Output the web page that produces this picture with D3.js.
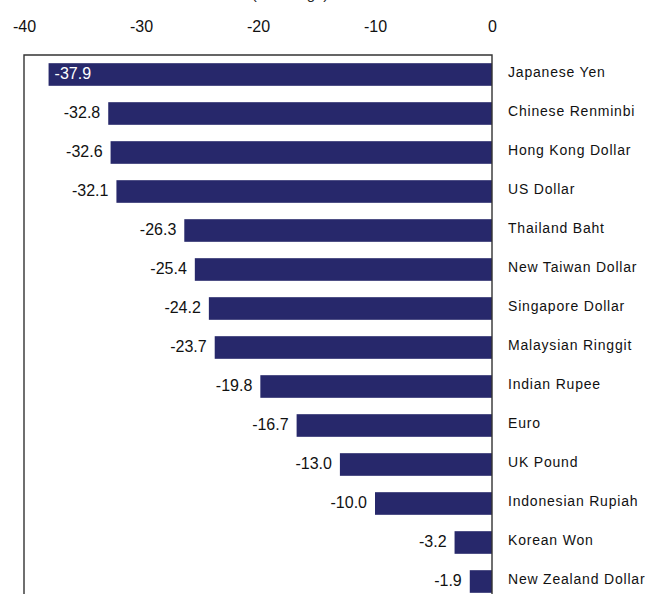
<!DOCTYPE html>
<html>
<head>
<meta charset="utf-8">
<script src="https://cdn.jsdelivr.net/npm/d3@7"></script>
<style>
  body { margin: 0; background: #fff; }
  text { font-family: "Liberation Sans", Arial, sans-serif; }
</style>
</head>
<body>
<div id="chart"></div>
<script>
// currency change bar chart

const currencies = ["Japanese Yen", "Chinese Renminbi", "Hong Kong Dollar", "US Dollar",
  "Thailand Baht", "New Taiwan Dollar", "Singapore Dollar", "Malaysian Ringgit",
  "Indian Rupee", "Euro", "UK Pound", "Indonesian Rupiah", "Korean Won", "New Zealand Dollar"];
const changes = [-37.9, -32.8, -32.6, -32.1, -26.3, -25.4, -24.2, -23.7, -19.8, -16.7, -13.0, -10.0, -3.2, -1.9];
const xTicks = [-40, -30, -20, -10, 0];

const width = 645, height = 594,
    margin = ({ top: 55, left: 24, plotRight: 492 });

const svg = d3.select("#chart")
    .append("svg")
    .attr("width", width)
    .attr("height", height);

const data = currencies.map((c, i) => ({ name: c, value: changes[i] }));

// plain hyphen minus, like the original
const fmt = d => d.toFixed(1);

let x = d3.scaleLinear()
    .domain([-40, 0])
    .range([margin.left, margin.plotRight]);

let y = d3.scaleBand()
    .domain(currencies)
    .range([margin.top, margin.top + 39 * currencies.length])
    .paddingInner(0.42)
    .paddingOuter(0.21);

// title, mostly cropped at the top
svg.append("text")
    .attr("x", 290)
    .attr("y", -1)
    .attr("text-anchor", "middle")
    .attr("font-size", 15)
    .attr("fill", "#222")
    .text("(% change)");

// top axis labels
svg.append("g")
    .attr("transform", "translate(0,32)")
    .call(d3.axisTop(x).tickValues(xTicks).tickSize(0).tickPadding(0).tickFormat(d => String(d)))
    .call(g => g.select(".domain").remove())
    .call(g => g.selectAll("text")
        .attr("font-size", 16)
        .attr("font-family", "'Liberation Sans', Arial, sans-serif")
        .attr("fill", "#111"));

// bars
svg.append("g")
    .selectAll("rect")
    .data(data)
    .join("rect")
    .attr("x", d => x(d.value))
    .attr("y", d => y(d.name))
    .attr("width", d => x(0) - x(d.value))
    .attr("height", y.bandwidth())
    .attr("fill", "#27286b");

// frame
svg.append("path")
    .attr("d", `M${x(-40)},${height + 5}V${margin.top}H${x(0)}V${height + 5}`)
    .attr("fill", "none")
    .attr("stroke", "#333")
    .attr("stroke-width", 1.4);

// value labels
svg.append("g")
    .selectAll("text")
    .data(data)
    .join("text")
    .attr("x", d => d.value < -35 ? x(d.value) + 6 : x(d.value) - 8)
    .attr("y", d => y(d.name) + y.bandwidth() / 2)
    .attr("dy", "0.3em")
    .attr("text-anchor", d => d.value < -35 ? "start" : "end")
    .attr("font-size", 16)
    .attr("fill", d => d.value < -35 ? "#fff" : "#111")
    .text(d => fmt(d.value));

// category labels
svg.append("g")
    .selectAll("text")
    .data(data)
    .join("text")
    .attr("x", x(0) + 16)
    .attr("y", d => y(d.name) + y.bandwidth() / 2)
    .attr("dy", "0.2em")
    .attr("font-size", 14)
    .attr("letter-spacing", 0.8)
    .attr("fill", "#111")
    .text(d => d.name);
</script>
</body>
</html>
